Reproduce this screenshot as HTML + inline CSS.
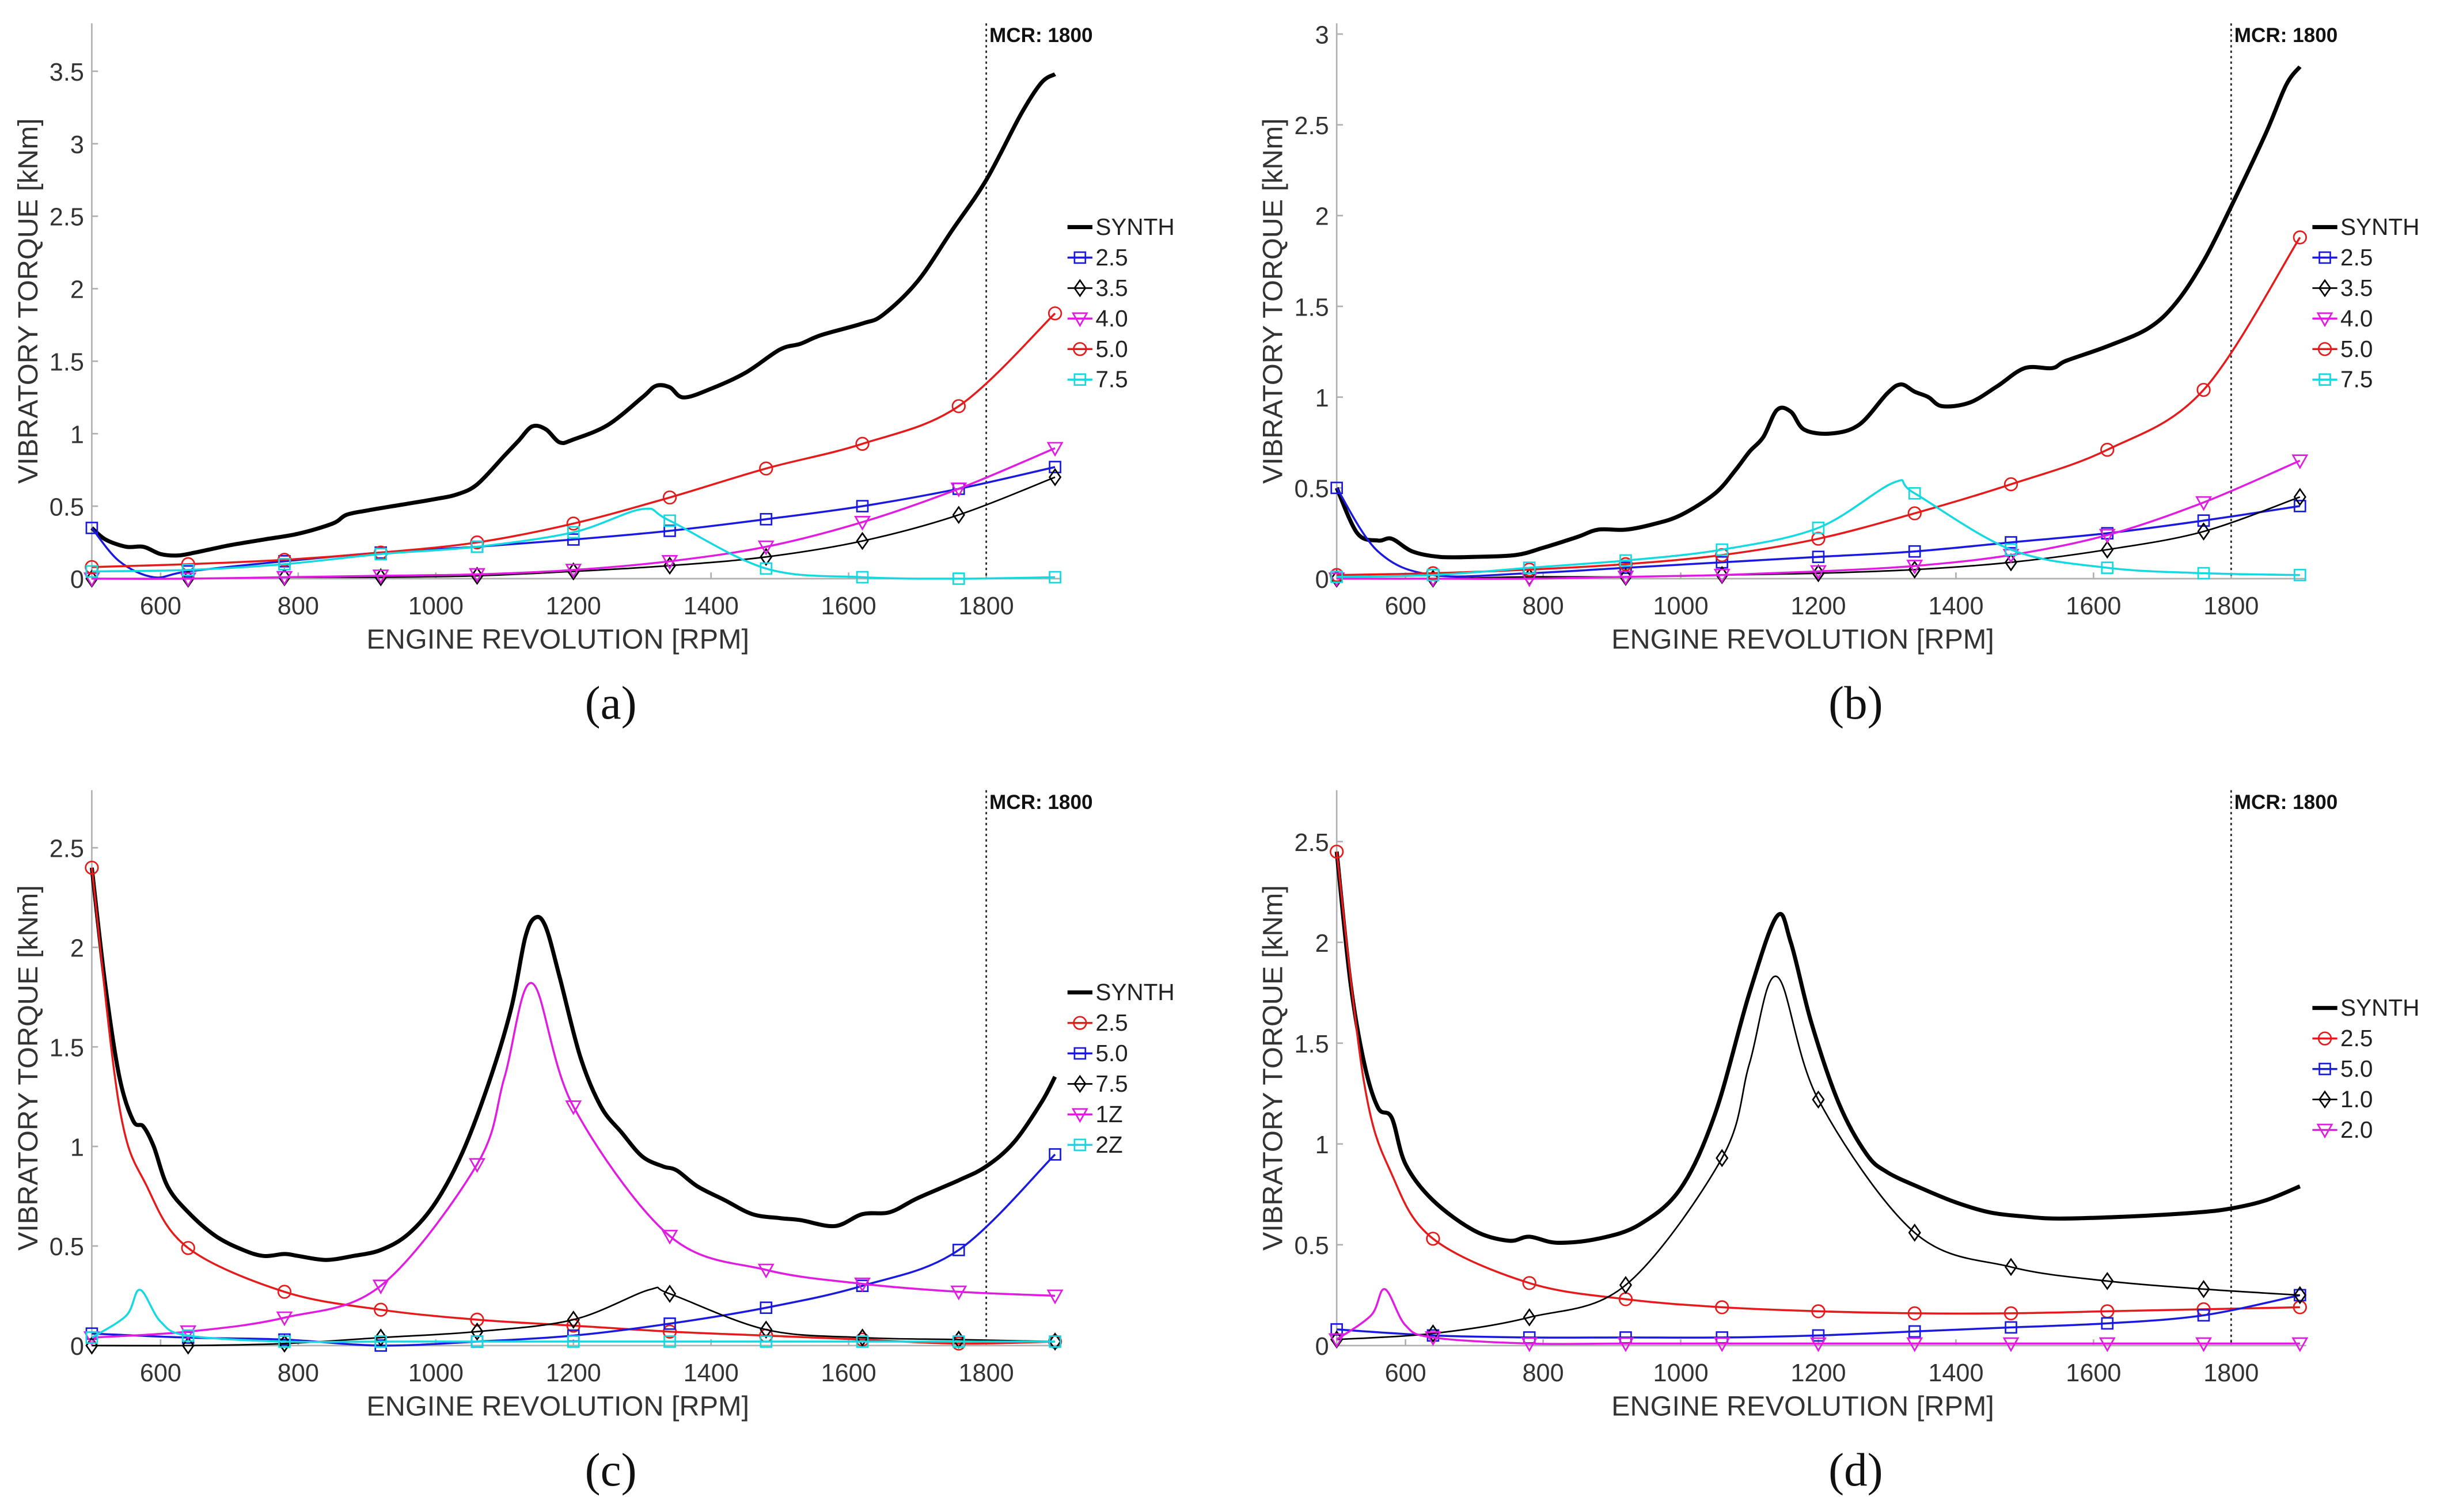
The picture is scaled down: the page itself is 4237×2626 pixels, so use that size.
<!DOCTYPE html>
<html><head><meta charset="utf-8"><style>
html,body{margin:0;padding:0;background:#fff;}
svg{display:block;}
text{font-family:"Liberation Sans",sans-serif;}
</style></head><body>
<svg id="fig" width="4237" height="2626" viewBox="0 0 1568 972" preserveAspectRatio="none" xmlns="http://www.w3.org/2000/svg"></svg>
<script>
const MARKER_X = [500,640,780,920,1060,1200,1340,1480,1620,1760,1900];
const X_TICKS = [600,800,1000,1200,1400,1600,1800];
// Panel (a)
const A_SYNTH_X = [500,520,550,575,600,625,650,700,750,800,850,870,900,950,1000,1030,1060,1100,1120,1140,1160,1180,1200,1250,1300,1320,1340,1360,1400,1450,1500,1530,1560,1620,1650,1700,1750,1800,1850,1880,1900];
const A_SYNTH_Y = [0.35,0.27,0.22,0.22,0.17,0.16,0.18,0.23,0.27,0.31,0.38,0.44,0.47,0.51,0.55,0.58,0.65,0.85,0.95,1.05,1.03,0.94,0.96,1.06,1.25,1.33,1.32,1.25,1.31,1.42,1.58,1.62,1.68,1.76,1.82,2.05,2.4,2.75,3.2,3.42,3.48];
const A_25_X = [500,540,590,640,780,920,1060,1200,1340,1480,1620,1760,1900];
const A_25_Y = [0.35,0.12,0.01,0.05,0.12,0.18,0.22,0.27,0.33,0.41,0.5,0.62,0.77];
const A_35_Y = [0,0,0.01,0.01,0.02,0.05,0.09,0.15,0.26,0.44,0.7];
const A_40_Y = [0,0,0.01,0.02,0.03,0.06,0.12,0.22,0.39,0.62,0.9];
const A_50_Y = [0.08,0.1,0.13,0.18,0.25,0.38,0.56,0.76,0.93,1.19,1.83];
const A_75_X = [500,640,780,920,1060,1200,1300,1340,1480,1620,1760,1900];
const A_75_Y = [0.05,0.06,0.1,0.17,0.22,0.32,0.48,0.4,0.07,0.01,0,0.01];
// Panel (b)
const B_SYNTH_X = [500,530,560,580,610,650,700,760,800,850,880,920,960,1000,1050,1080,1100,1120,1140,1160,1180,1220,1260,1300,1320,1340,1360,1380,1420,1460,1500,1540,1560,1620,1680,1720,1760,1800,1850,1880,1900];
const B_SYNTH_Y = [0.5,0.25,0.21,0.22,0.15,0.12,0.12,0.13,0.17,0.23,0.27,0.27,0.3,0.35,0.47,0.6,0.7,0.78,0.93,0.92,0.82,0.8,0.85,1.02,1.07,1.03,1.0,0.95,0.97,1.06,1.16,1.16,1.2,1.28,1.38,1.52,1.75,2.05,2.45,2.72,2.82];
const B_25_X = [500,560,640,780,920,1060,1200,1340,1480,1620,1760,1900];
const B_25_Y = [0.5,0.15,0.02,0.03,0.06,0.09,0.12,0.15,0.2,0.25,0.32,0.4];
const B_35_Y = [0,0,0.01,0.01,0.02,0.03,0.05,0.09,0.16,0.26,0.45];
const B_40_Y = [0,0,0,0.01,0.02,0.04,0.07,0.13,0.24,0.42,0.65];
const B_50_Y = [0.02,0.03,0.05,0.08,0.13,0.22,0.36,0.52,0.71,1.04,1.88];
const B_75_X = [500,640,780,920,1060,1200,1310,1340,1480,1620,1760,1900];
const B_75_Y = [0.01,0.02,0.06,0.1,0.16,0.28,0.53,0.47,0.16,0.06,0.03,0.02];
// Panel (c)
const C_SYNTH_X = [500,520,540,560,575,590,610,640,680,720,750,780,800,840,880,920,960,1000,1040,1080,1110,1130,1145,1160,1180,1210,1240,1270,1300,1330,1350,1380,1420,1460,1500,1530,1580,1620,1660,1700,1760,1800,1840,1880,1900];
const C_SYNTH_Y = [2.4,1.8,1.35,1.13,1.1,1.0,0.8,0.67,0.55,0.48,0.45,0.46,0.45,0.43,0.45,0.48,0.56,0.72,0.98,1.35,1.7,2.05,2.15,2.1,1.85,1.45,1.2,1.07,0.95,0.9,0.88,0.8,0.73,0.66,0.64,0.63,0.6,0.66,0.67,0.74,0.83,0.9,1.02,1.22,1.35];
const C_25_X = [500,540,580,640,780,920,1060,1200,1340,1480,1620,1760,1900];
const C_25_Y = [2.4,1.2,0.8,0.49,0.27,0.18,0.13,0.1,0.07,0.05,0.03,0.01,0.02];
const C_50_Y = [0.06,0.04,0.03,0,0.02,0.05,0.11,0.19,0.3,0.48,0.96];
const C_75_X = [500,640,780,920,1060,1200,1310,1340,1480,1620,1760,1900];
const C_75_Y = [0,0,0.01,0.04,0.07,0.13,0.28,0.26,0.08,0.04,0.03,0.02];
const C_1Z_X = [500,640,780,920,1060,1100,1140,1200,1340,1480,1620,1760,1900];
const C_1Z_Y = [0.04,0.07,0.14,0.3,0.91,1.35,1.82,1.2,0.55,0.38,0.31,0.27,0.25];
const C_2Z_X = [500,550,570,600,640,780,920,1060,1200,1340,1480,1620,1760,1900];
const C_2Z_Y = [0.04,0.15,0.28,0.12,0.05,0.02,0.02,0.02,0.02,0.02,0.02,0.02,0.02,0.02];
// Panel (d)
const D_SYNTH_X = [500,520,540,560,580,600,640,700,750,780,820,880,940,1000,1050,1100,1140,1160,1190,1230,1270,1300,1350,1400,1450,1500,1550,1650,1750,1800,1850,1900];
const D_SYNTH_Y = [2.45,1.8,1.4,1.18,1.13,0.9,0.72,0.57,0.52,0.54,0.51,0.53,0.6,0.78,1.15,1.75,2.13,2.0,1.6,1.2,0.95,0.86,0.78,0.71,0.66,0.64,0.63,0.64,0.66,0.68,0.72,0.79];
const D_25_X = [500,540,580,640,780,920,1060,1200,1340,1480,1620,1760,1900];
const D_25_Y = [2.45,1.3,0.85,0.53,0.31,0.23,0.19,0.17,0.16,0.16,0.17,0.18,0.19];
const D_50_Y = [0.08,0.05,0.04,0.04,0.04,0.05,0.07,0.09,0.11,0.15,0.25];
const D_10_X = [500,640,780,920,1060,1100,1140,1200,1340,1480,1620,1760,1900];
const D_10_Y = [0.03,0.06,0.14,0.3,0.93,1.4,1.83,1.22,0.56,0.39,0.32,0.28,0.25];
const D_20_X = [500,550,570,600,640,780,920,1060,1200,1340,1480,1620,1760,1900];
const D_20_Y = [0.03,0.15,0.28,0.1,0.04,0.01,0.01,0.01,0.01,0.01,0.01,0.01,0.01,0.01];

const NS = 'http://www.w3.org/2000/svg';
const svg = document.getElementById('fig');
function mk(tag, attrs, parent){
  const e = document.createElementNS(NS, tag);
  for (const k in attrs) e.setAttribute(k, attrs[k]);
  (parent||svg).appendChild(e);
  return e;
}
function smoothPath(pts){
  let d = 'M' + pts[0][0].toFixed(2) + ',' + pts[0][1].toFixed(2);
  for (let i=0;i<pts.length-1;i++){
    const p0 = pts[i-1]||pts[i], p1=pts[i], p2=pts[i+1], p3=pts[i+2]||pts[i+1];
    const c1=[p1[0]+(p2[0]-p0[0])/6, p1[1]+(p2[1]-p0[1])/6];
    const c2=[p2[0]-(p3[0]-p1[0])/6, p2[1]-(p3[1]-p1[1])/6];
    d += 'C'+c1[0].toFixed(2)+','+c1[1].toFixed(2)+' '+c2[0].toFixed(2)+','+c2[1].toFixed(2)+' '+p2[0].toFixed(2)+','+p2[1].toFixed(2);
  }
  return d;
}
function marker(g, type, x, y, color){
  const s = 4;
  let el;
  if (type==='square') el = mk('rect',{x:x-s+0.5,y:y-s+0.5,width:2*s-1,height:2*s-1,fill:'none',stroke:color,'stroke-width':1},g);
  else if (type==='circle') el = mk('circle',{cx:x,cy:y,r:s,fill:'none',stroke:color,'stroke-width':1},g);
  else if (type==='diamond') el = mk('polygon',{points:`${x},${y-5} ${x+3.5},${y} ${x},${y+5} ${x-3.5},${y}`,fill:'none',stroke:color,'stroke-width':1},g);
  else if (type==='tri') el = mk('polygon',{points:`${x-4.5},${y-3.5} ${x+4.5},${y-3.5} ${x},${y+4.5}`,fill:'none',stroke:color,'stroke-width':1},g);
  if (el){
    
    
  }
}
function panel(cfg){
  const g = mk('g',{});
  
  
  const xs = v => cfg.x0 + (v-500)/1400*(cfg.x1-cfg.x0);
  const ys = v => cfg.y0 - v*cfg.unit;
  const ax = mk('path',{d:`M${cfg.x0},${cfg.top} L${cfg.x0},${cfg.y0} L${cfg.x1+4},${cfg.y0}`,fill:'none',stroke:'#b0b0b0','stroke-width':1},g);
  
  
  X_TICKS.forEach(t=>{
    mk('line',{x1:xs(t),x2:xs(t),y1:cfg.y0,y2:cfg.y0-4,stroke:'#b0b0b0','stroke-width':1},g);
    const tl = mk('text',{x:xs(t),y:cfg.y0+23,'font-size':16,'text-anchor':'middle',fill:'#333'},g);
    tl.textContent = t;
    
    
  });
  cfg.yticks.forEach(t=>{
    mk('line',{x1:cfg.x0,x2:cfg.x0+4,y1:ys(t),y2:ys(t),stroke:'#b0b0b0','stroke-width':1},g);
    const tl = mk('text',{x:cfg.x0-5,y:ys(t)+6,'font-size':16,'text-anchor':'end',fill:'#333'},g);
    tl.textContent = String(t);
    
    
  });
  const xl = mk('text',{x:(cfg.x0+cfg.x1)/2-10,y:cfg.y0+45,'font-size':18,'text-anchor':'middle',fill:'#333'},g);
  xl.textContent = 'ENGINE REVOLUTION [RPM]';
  
  
  const yc = (cfg.top+cfg.y0)/2;
  const yl = mk('text',{x:cfg.x0-35,y:yc,'font-size':18,'text-anchor':'middle',fill:'#333',transform:`rotate(-90 ${cfg.x0-35} ${yc})`},g);
  yl.textContent = 'VIBRATORY TORQUE [kNm]';
  
  
  const mcr = mk('line',{x1:xs(1800),x2:xs(1800),y1:cfg.top,y2:cfg.y0,stroke:'#222','stroke-width':1,'stroke-dasharray':'1.5,2'},g);
  
  
  const mt = mk('text',{x:xs(1800)+2,y:cfg.top+12,'font-size':13,'font-weight':'bold',fill:'#111'},g);
  mt.textContent = 'MCR: 1800';
  
  
  cfg.series.forEach(s=>{
    const X = s.x || MARKER_X;
    const pts = X.map((v,i)=>[xs(v), ys(s.y[i])]);
    const p = mk('path',{d:smoothPath(pts),fill:'none',stroke:s.color,'stroke-width':s.w||1.3,'stroke-linejoin':'round'},g);
    
    
    if (s.m) X.forEach((v,i)=>{ if (MARKER_X.indexOf(v)>=0) marker(g, s.m, xs(v), ys(s.y[i]), s.color); });
  });
  cfg.series.forEach((s,i)=>{
    const ly = cfg.legY + i*19.6;
    const lx = cfg.x1 + 8;
    mk('line',{x1:lx,x2:lx+16,y1:ly,y2:ly,stroke:s.color,'stroke-width':s.w||1.3},g);
    if (s.m) marker(g, s.m, lx+8, ly, s.color);
    const t = mk('text',{x:lx+18,y:ly+5,'font-size':15,fill:'#222'},g);
    t.textContent = s.name;
    
    
  });
  const cap = mk('text',{x:(cfg.x0+cfg.x1)/2+24,y:cfg.y0+90,'font-size':30,'text-anchor':'middle',fill:'#111',style:'font-family:"Liberation Serif",serif'},g);
  cap.textContent = '(' + cfg.id + ')';
  
  
}
panel({id:'a',x0:59,x1:678,y0:372,unit:93.2,top:15,yticks:[0,0.5,1,1.5,2,2.5,3,3.5],legY:146,series:[
  {name:'SYNTH',x:A_SYNTH_X,y:A_SYNTH_Y,color:'#000',w:2.6},
  {name:'2.5',x:A_25_X,y:A_25_Y,color:'#1a1adf',m:'square'},
  {name:'3.5',y:A_35_Y,color:'#000',m:'diamond',w:1},
  {name:'4.0',y:A_40_Y,color:'#e01ce0',m:'tri'},
  {name:'5.0',y:A_50_Y,color:'#e51b1b',m:'circle'},
  {name:'7.5',x:A_75_X,y:A_75_Y,color:'#14d9e0',m:'square'}]});
panel({id:'b',x0:859,x1:1478,y0:372,unit:116.7,top:15,yticks:[0,0.5,1,1.5,2,2.5,3],legY:146,series:[
  {name:'SYNTH',x:B_SYNTH_X,y:B_SYNTH_Y,color:'#000',w:2.6},
  {name:'2.5',x:B_25_X,y:B_25_Y,color:'#1a1adf',m:'square'},
  {name:'3.5',y:B_35_Y,color:'#000',m:'diamond',w:1},
  {name:'4.0',y:B_40_Y,color:'#e01ce0',m:'tri'},
  {name:'5.0',y:B_50_Y,color:'#e51b1b',m:'circle'},
  {name:'7.5',x:B_75_X,y:B_75_Y,color:'#14d9e0',m:'square'}]});
panel({id:'c',x0:59,x1:678,y0:865,unit:128,top:508,yticks:[0,0.5,1,1.5,2,2.5],legY:638,series:[
  {name:'SYNTH',x:C_SYNTH_X,y:C_SYNTH_Y,color:'#000',w:2.6},
  {name:'2.5',x:C_25_X,y:C_25_Y,color:'#e51b1b',m:'circle'},
  {name:'5.0',y:C_50_Y,color:'#1a1adf',m:'square'},
  {name:'7.5',x:C_75_X,y:C_75_Y,color:'#000',m:'diamond',w:1},
  {name:'1Z',x:C_1Z_X,y:C_1Z_Y,color:'#e01ce0',m:'tri'},
  {name:'2Z',x:C_2Z_X,y:C_2Z_Y,color:'#14d9e0',m:'square'}]});
panel({id:'d',x0:859,x1:1478,y0:865,unit:129.6,top:508,yticks:[0,0.5,1,1.5,2,2.5],legY:648,series:[
  {name:'SYNTH',x:D_SYNTH_X,y:D_SYNTH_Y,color:'#000',w:2.6},
  {name:'2.5',x:D_25_X,y:D_25_Y,color:'#e51b1b',m:'circle'},
  {name:'5.0',y:D_50_Y,color:'#1a1adf',m:'square'},
  {name:'1.0',x:D_10_X,y:D_10_Y,color:'#000',m:'diamond',w:1},
  {name:'2.0',x:D_20_X,y:D_20_Y,color:'#e01ce0',m:'tri'}]});
</script>
</body></html>
